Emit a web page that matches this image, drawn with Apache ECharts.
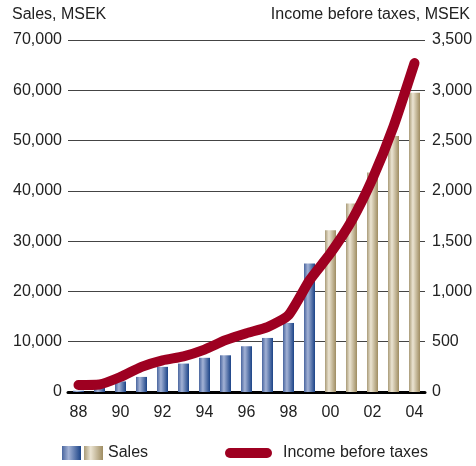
<!DOCTYPE html>
<html>
<head>
<meta charset="utf-8">
<script src="https://cdn.jsdelivr.net/npm/echarts@6/dist/echarts.min.js"></script>
<style>
  html, body { margin: 0; padding: 0; background: #fff; }
  #chart { width: 476px; height: 466px; }
</style>
</head>
<body>
<div id="chart"></div>
<script>
// data
const years = ['88', '89', '90', '91', '92', '93', '94', '95', '96', '97', '98', '99', '00', '01', '02', '03', '04']
const sales = [250, 800, 2100, 3000, 5000, 5650, 6800, 7300, 9100, 10750, 13730, 25560, 32190, 37500, 43670, 50900, 59500]
const income = [70, 75, 150, 250, 315, 355, 422, 515, 585, 645, 765, 1110, 1380, 1700, 2120, 2640, 3270]
const firstBeige = 12 // bars from '00 on are drawn beige

const font = 'Liberation Sans, Arial, sans-serif'
const blue = new echarts.graphic.LinearGradient(0, 0, 1, 0, [
  { offset: 0, color: '#4a669f' },
  { offset: 0.35, color: '#a3b2d5' },
  { offset: 1, color: '#1b4387' }
])
const beige = new echarts.graphic.LinearGradient(0, 0, 1, 0, [
  { offset: 0, color: '#a99b78' },
  { offset: 0.35, color: '#ebe4d2' },
  { offset: 1, color: '#9f8d62' }
])

const chart = echarts.init(document.getElementById('chart'))
const option = {
  backgroundColor: '#fff',
  animation: false,
  textStyle: { fontFamily: font },
  title: [
    { text: 'Sales, MSEK', left: 12, top: 7, padding: 0,
      textStyle: { fontSize: 16, fontWeight: 'normal', color: '#222', fontFamily: font } },
    { text: 'Income before taxes, MSEK', right: 6, top: 7, padding: 0,
      textStyle: { fontSize: 16, fontWeight: 'normal', color: '#222', fontFamily: font } }
  ],
  grid: { left: 68, right: 51, top: 40, bottom: 74 },
  xAxis: {
    type: 'category',
    data: years,
    axisLine: { lineStyle: { color: '#000', width: 3 } },
    axisTick: { show: false },
    axisLabel: { interval: 1, margin: 13, fontSize: 16, color: '#222', fontFamily: font }
  },
  yAxis: [{
    type: 'value',
    min: 0, max: 70000, interval: 10000,
    axisLine: { show: false },
    axisTick: { show: false },
    axisLabel: {
      margin: 6, fontSize: 16, color: '#222', fontFamily: font,
      formatter: (v) => v.toLocaleString('en-US')
    },
    splitLine: { lineStyle: { color: '#444', width: 1 } }
  }, {
    type: 'value',
    min: 0, max: 3500, interval: 500,
    axisLine: { show: false },
    axisTick: { show: false },
    axisLabel: {
      margin: 7, fontSize: 16, color: '#222', fontFamily: font,
      formatter: (v) => v.toLocaleString('en-US')
    },
    splitLine: { show: false }
  }],
  series: [{
    name: 'Sales',
    type: 'bar',
    barWidth: 11,
    data: sales.map((v, i) => ({ value: v, itemStyle: { color: i < firstBeige ? blue : beige } })),
    z: 2
  }, {
    name: 'Income before taxes',
    type: 'line',
    yAxisIndex: 1,
    data: income,
    smooth: 0.2,
    symbol: 'none',
    lineStyle: { color: '#9e0021', width: 10, cap: 'round', join: 'round' },
    z: 3
  }],
  graphic: [
    { type: 'rect', left: 62, top: 446, shape: { width: 19, height: 14 }, style: { fill: blue } },
    { type: 'rect', left: 84, top: 446, shape: { width: 19, height: 14 }, style: { fill: beige } },
    { type: 'text', left: 108, top: 445, style: { text: 'Sales', fontSize: 16, fill: '#222', fontFamily: font } },
    { type: 'rect', left: 225, top: 448, shape: { width: 47, height: 10, r: 5 }, style: { fill: '#9e0021' } },
    { type: 'text', left: 283, top: 445, style: { text: 'Income before taxes', fontSize: 16, fill: '#222', fontFamily: font } }
  ]
}
chart.setOption(option)
window.addEventListener('resize', () => chart.resize())
</script>
</body>
</html>
